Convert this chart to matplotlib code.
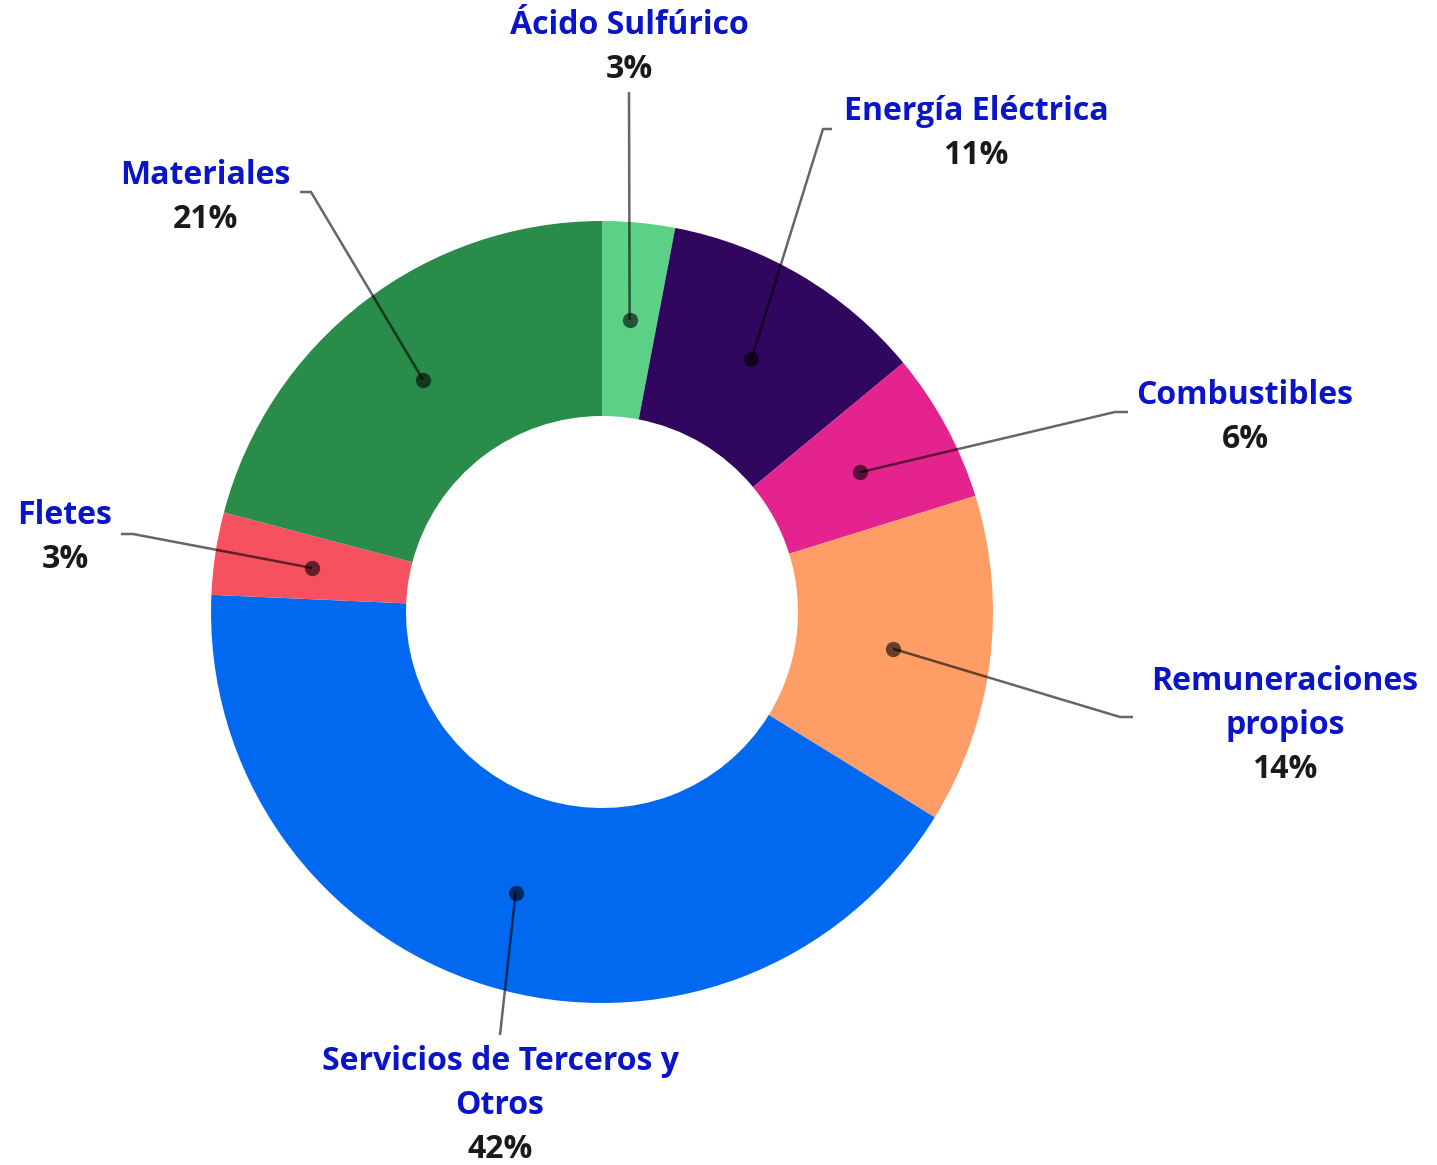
import matplotlib
matplotlib.use("Agg")
import matplotlib.pyplot as plt
import numpy as np

# ---- data ----
categories = ["Ácido Sulfúrico", "Energía Eléctrica", "Combustibles",
              "Remuneraciones propios", "Servicios de Terceros y Otros",
              "Fletes", "Materiales"]
label_lines = [["Ácido Sulfúrico"], ["Energía Eléctrica"], ["Combustibles"],
               ["Remuneraciones", "propios"], ["Servicios de Terceros y", "Otros"],
               ["Fletes"], ["Materiales"]]
values = [3.0, 11.0, 6.2, 13.6, 41.9, 3.4, 20.9]
colors = ["#5CD185", "#31065F", "#E5238E", "#FF9D66", "#0069F0", "#F5515F", "#2A8C4A"]

# ---- layout (pixel coordinates, y from top) ----
W, H = 1437, 1165
center_px = (602, 612)
r_out, r_in = 391, 196
# label center x, first-line center y, elbow point, line end point
label_layout = [
    (629, 22, (629, 92), (629, 92)),
    (976, 108, (823, 129), (832, 129)),
    (1245, 392, (1115, 412), (1128, 412)),
    (1285, 678, (1120, 717), (1133, 717)),
    (500, 1059, (500, 1035), (500, 1035)),
    (65, 513, (133, 534), (121, 534)),
    (205, 172, (311, 192), (300, 192)),
]
line_step = 44
text_offset = 3

NAME_COLOR = "#0A14C8"
PCT_COLOR = "#1A1A1A"
LEAD = (0, 0, 0, 0.6)
FONT = ["Open Sans", "DejaVu Sans"]

fig = plt.figure(figsize=(W / 100, H / 100), dpi=100)
ax = fig.add_axes([0, 0, 1, 1])

def py(y):
    return H - y

cx, cy = center_px[0], py(center_px[1])
wedges, _ = ax.pie(values, colors=colors, startangle=90, counterclock=False,
                   center=(cx, cy), radius=r_out,
                   wedgeprops=dict(width=r_out - r_in, edgecolor="none", linewidth=0))
ax.set_xlim(0, W)
ax.set_ylim(0, H)
ax.set_aspect("equal")
ax.axis("off")

total = sum(values)
r_mid = (r_out + r_in) / 2
for w, lines, val, (lx, ly, elbow, end) in zip(wedges, label_lines, values, label_layout):
    ang = np.deg2rad((w.theta1 + w.theta2) / 2)
    dx, dy = cx + r_mid * np.cos(ang), cy + r_mid * np.sin(ang)
    ax.plot([dx, elbow[0], end[0]], [dy, py(elbow[1]), py(end[1])],
            color=LEAD, lw=1.8, solid_capstyle="butt", zorder=3)
    ax.plot([dx], [dy], "o", ms=11, color=LEAD, mec="none", zorder=4)
    y = ly + text_offset
    for ln in lines:
        ax.text(lx, py(y), ln, ha="center", va="center", fontsize=23,
                fontweight="bold", color=NAME_COLOR, family=FONT)
        y += line_step
    ax.text(lx, py(y), f"{round(val / total * 100)}%", ha="center", va="center",
            fontsize=23, fontweight="bold", color=PCT_COLOR, family=FONT)

fig.savefig("out.png", dpi=100, facecolor="white")
